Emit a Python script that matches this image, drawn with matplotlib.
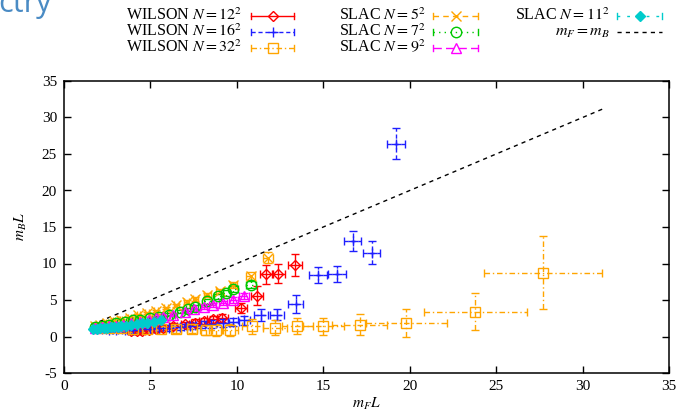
import matplotlib
matplotlib.use("Agg")
import matplotlib.pyplot as plt

plt.rcParams['font.family'] = ['Liberation Serif', 'DejaVu Serif']
plt.rcParams['mathtext.fontset'] = 'stix'
plt.rcParams['axes.unicode_minus'] = False

# WILSON N = 12^2
w12_x = [3.9, 4.2, 4.5, 4.9, 5.3, 5.7, 6.3, 7.0, 7.6, 8.1, 8.6, 9.15, 10.25, 11.15, 11.7, 12.4, 13.35]
w12_y = [0.7, 0.75, 0.8, 0.9, 1.0, 1.2, 1.4, 1.65, 1.9, 2.1, 2.35, 2.6, 3.9, 5.6, 8.5, 8.6, 9.8]
w12_xe = [0.2, 0.2, 0.2, 0.2, 0.2, 0.22, 0.24, 0.26, 0.28, 0.3, 0.3, 0.32, 0.36, 0.36, 0.37, 0.38, 0.42]
w12_ye = [0.35, 0.35, 0.35, 0.35, 0.35, 0.35, 0.4, 0.4, 0.45, 0.45, 0.5, 0.55, 0.7, 1.3, 1.3, 1.3, 1.5]

# WILSON N = 16^2
w16_x = [2.2, 2.6, 3.0, 3.5, 4.0, 4.5, 5.0, 5.5, 6.1, 6.7, 7.3, 7.9, 8.5, 9.2, 9.8, 10.4, 11.4, 12.3,
         13.4, 14.7, 15.8, 16.7, 17.8, 19.2]
w16_y = [1.0, 0.9, 0.9, 0.9, 0.9, 1.0, 1.0, 1.1, 1.2, 1.3, 1.5, 1.6, 1.7, 1.9, 2.0, 2.2, 2.9, 3.0,
         4.5, 8.4, 8.5, 13.1, 11.5, 26.4]
w16_xe = [0.15, 0.15, 0.15, 0.15, 0.15, 0.18, 0.2, 0.2, 0.22, 0.24, 0.26, 0.28, 0.3, 0.32, 0.34, 0.36,
          0.38, 0.4, 0.45, 0.5, 0.5, 0.5, 0.5, 0.5]
w16_ye = [0.3, 0.3, 0.3, 0.3, 0.3, 0.3, 0.35, 0.35, 0.4, 0.4, 0.45, 0.5, 0.5, 0.55, 0.6, 0.65, 0.8, 0.8,
          1.25, 1.1, 1.1, 1.4, 1.6, 2.1]

# WILSON N = 32^2
w32_x = [2.0, 2.6, 3.3, 4.0, 4.8, 5.6, 6.5, 7.4, 8.2, 8.8, 9.6, 10.9, 12.2, 13.5, 15.0, 17.1, 19.8, 23.8, 27.7]
w32_y = [1.2, 1.1, 1.1, 1.0, 1.0, 1.0, 1.0, 1.0, 0.9, 0.9, 0.9, 1.4, 1.2, 1.4, 1.4, 1.6, 1.8, 3.4, 8.7]
w32_xe = [0.15, 0.15, 0.18, 0.2, 0.22, 0.25, 0.28, 0.3, 0.35, 0.4, 0.45, 0.6, 0.7, 0.9, 1.2, 1.6, 2.35, 3.0, 3.4]
w32_ye = [0.3, 0.3, 0.3, 0.35, 0.4, 0.45, 0.5, 0.55, 0.7, 0.8, 0.8, 1.0, 1.0, 1.1, 1.15, 1.45, 1.9, 2.5, 5.0]

# SLAC N = 5^2
s5_x = [1.8, 2.1, 2.5, 2.9, 3.3, 3.8, 4.3, 4.8, 5.3, 5.9, 6.5, 7.1, 7.6, 8.3, 9.0, 9.8, 10.8, 11.8]
s5_y = [1.4, 1.6, 1.8, 2.1, 2.3, 2.6, 2.9, 3.2, 3.5, 3.9, 4.3, 4.7, 5.1, 5.7, 6.2, 7.0, 8.3, 10.8]
s5_xe = [0.05, 0.05, 0.06, 0.07, 0.08, 0.09, 0.1, 0.11, 0.12, 0.13, 0.14, 0.15, 0.16, 0.18, 0.2, 0.22, 0.26, 0.3]
s5_ye = [0.05, 0.06, 0.07, 0.08, 0.09, 0.1, 0.12, 0.14, 0.16, 0.18, 0.2, 0.24, 0.28, 0.32, 0.36, 0.4, 0.55, 0.75]

# SLAC N = 7^2
s7_x = [1.8, 2.2, 2.6, 3.0, 3.5, 4.0, 4.4, 5.0, 5.5, 6.1, 6.7, 7.2, 7.6, 8.3, 8.9, 9.4, 9.8, 10.8]
s7_y = [1.3, 1.5, 1.6, 1.8, 2.0, 2.2, 2.3, 2.5, 2.7, 3.0, 3.4, 3.7, 4.0, 4.8, 5.5, 6.0, 6.5, 7.1]
s7_xe = [0.05, 0.05, 0.06, 0.07, 0.08, 0.09, 0.1, 0.11, 0.12, 0.13, 0.14, 0.15, 0.16, 0.18, 0.2, 0.22, 0.24, 0.28]
s7_ye = [0.05, 0.06, 0.07, 0.08, 0.09, 0.1, 0.12, 0.14, 0.16, 0.18, 0.2, 0.22, 0.25, 0.3, 0.35, 0.4, 0.45, 0.5]

# SLAC N = 9^2
s9_x = [1.8, 2.2, 2.6, 3.0, 3.4, 3.9, 4.4, 4.9, 5.3, 5.7, 6.3, 7.0, 7.5, 8.1, 8.6, 9.2, 9.8, 10.4]
s9_y = [1.2, 1.3, 1.4, 1.5, 1.6, 1.8, 2.0, 2.25, 2.5, 2.7, 3.0, 3.4, 3.7, 4.1, 4.3, 4.6, 5.0, 5.5]
s9_xe = [0.05, 0.05, 0.06, 0.07, 0.08, 0.09, 0.1, 0.11, 0.12, 0.13, 0.14, 0.15, 0.16, 0.18, 0.2, 0.22, 0.24, 0.28]
s9_ye = [0.05, 0.06, 0.07, 0.08, 0.09, 0.1, 0.12, 0.14, 0.16, 0.18, 0.2, 0.22, 0.25, 0.28, 0.3, 0.33, 0.36, 0.4]

# SLAC N = 11^2
s11_x = [1.7, 1.9, 2.1, 2.3, 2.5, 2.7, 2.9, 3.1, 3.3, 3.6, 3.9, 4.2, 4.5, 4.8, 5.2, 5.6]
s11_y = [1.0, 1.05, 1.1, 1.15, 1.2, 1.25, 1.3, 1.35, 1.4, 1.5, 1.6, 1.7, 1.8, 1.9, 2.0, 2.2]
s11_xe = [0.05, 0.05, 0.05, 0.06, 0.06, 0.07, 0.07, 0.08, 0.08, 0.09, 0.1, 0.11, 0.12, 0.13, 0.14, 0.15]
s11_ye = [0.08, 0.08, 0.08, 0.09, 0.09, 0.1, 0.1, 0.11, 0.11, 0.12, 0.13, 0.14, 0.15, 0.16, 0.17, 0.18]

# m_F = m_B
diag_x = [1.6, 31.2]

series = [
    ("WILSON $N = 12^2$", w12_x, w12_y, w12_xe, w12_ye, "#ff0000", "D", "-", 5.5, False),
    ("WILSON $N = 16^2$", w16_x, w16_y, w16_xe, w16_ye, "#1f1fff", "+", (0, (3, 2)), 7.5, False),
    ("WILSON $N = 32^2$", w32_x, w32_y, w32_xe, w32_ye, "#ffa500", "s", (0, (4, 2, 1, 2)), 6.5, False),
    ("SLAC $N = 5^2$", s5_x, s5_y, s5_xe, s5_ye, "#ffa500", "x", (0, (4, 3)), 7.5, False),
    ("SLAC $N = 7^2$", s7_x, s7_y, s7_xe, s7_ye, "#00c800", "o", (0, (1, 3)), 7.5, False),
    ("SLAC $N = 9^2$", s9_x, s9_y, s9_xe, s9_ye, "#ff00ff", "^", (0, (6, 3)), 7.5, False),
    ("SLAC $N = 11^2$", s11_x, s11_y, s11_xe, s11_ye, "#00cccc", "D", (0, (2, 5)), 5.5, True),
]

fig = plt.figure(figsize=(6.76, 4.11), dpi=100)
ax = fig.add_axes([64 / 676, 38 / 411, 605 / 676, 292 / 411])

for lab, x, y, xe, ye, col, mk, ls, ms, fill in series:
    eb = ax.errorbar(x, y, xerr=xe, yerr=ye, fmt=mk, color=col, ms=ms,
                     mfc=col if fill else "none", mec=col, mew=1.0,
                     elinewidth=1.0, capsize=3, capthick=1.0)
    for lc in eb.lines[2]:
        lc.set_linestyle(ls)

ax.plot(diag_x, diag_x, color="black", ls=(0, (3, 3)), lw=1.0)

ax.set_xlim(0, 35)
ax.set_ylim(-5, 35)
ax.set_xticks(range(0, 36, 5))
ax.set_yticks(range(-5, 36, 5))
ax.tick_params(direction="in", top=True, right=True, length=5, width=1.0, labelsize=11, pad=5)
for sp in ax.spines.values():
    sp.set_linewidth(1.1)
ax.set_xlabel("$m_F L$", fontsize=11, labelpad=2)
ax.set_ylabel("$m_B L$", fontsize=11, labelpad=9)

# legend drawn by hand, gnuplot style
lax = fig.add_axes([0, 0, 1, 1])
lax.set_xlim(0, 676)
lax.set_ylim(411, 0)
lax.axis("off")

legend_cols = [(242, 251, 294), (426, 433, 478), (610, 617, 662)]
legend_rows = [16, 32, 48]
entries = [(s[0], s[5], s[6], s[7], s[8], s[9]) for s in series]
entries.append(("$m_F = m_B$", "black", None, (0, (3, 3)), 0, False))
for i, (lab, col, mk, ls, ms, fill) in enumerate(entries):
    tx, x0, x1 = legend_cols[i // 3]
    yy = legend_rows[i % 3]
    lax.text(tx, yy, lab, ha="right", va="center", fontsize=11.5)
    lax.plot([x0, x1], [yy, yy], color=col, ls=ls, lw=1.0)
    if mk is not None:
        lax.plot([x0, x0], [yy - 3, yy + 3], color=col, lw=1.0)
        lax.plot([x1, x1], [yy - 3, yy + 3], color=col, lw=1.0)
        lax.plot([(x0 + x1) / 2], [yy], marker=mk, ms=ms, color=col,
                 mfc=col if fill else "none", mec=col, mew=1.0)

# cut-off slide title
fig.text(-0.003, 1 - 12 / 411, "ctry", fontsize=22, color="#4a8bc4",
         family="Open Sans", va="baseline", ha="left")

fig.savefig("out.png", dpi=100)
